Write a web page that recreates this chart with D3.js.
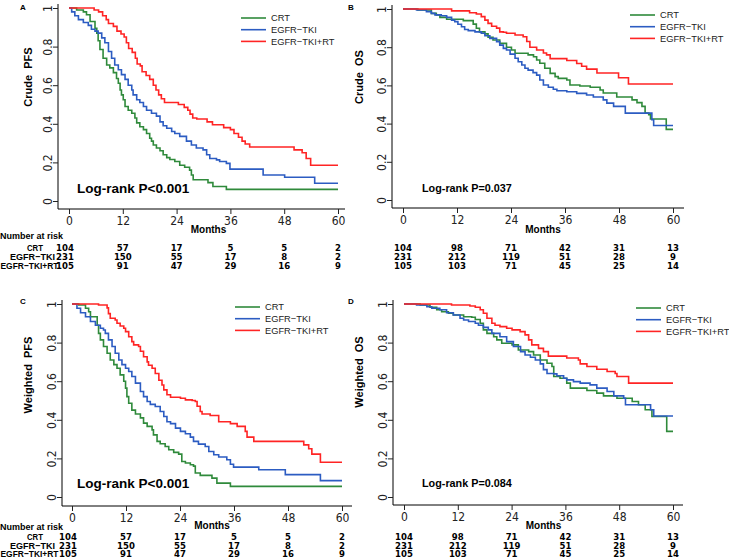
<!DOCTYPE html>
<html>
<head>
<meta charset="utf-8">
<script src="https://cdn.jsdelivr.net/npm/d3@7"></script>
<style>
  body { margin: 0; background: #fff; }
  svg { display: block; }
  .tick text { font-family: "Liberation Sans Narrow", "DejaVu Sans Condensed", Arial, sans-serif; font-size: 12px; fill: #222; }
</style>
</head>
<body>
<script>
var groups = ["CRT", "EGFR\u2212TKI", "EGFR\u2212TKI+RT"];
var colors = ["#2f8a3b", "#2c5cc2", "#ff2424"];
var monthTicks = [0, 12, 24, 36, 48, 60];
var survTicks = [0, 0.2, 0.4, 0.6, 0.8, 1];
var survTickLabels = ["0", "0.2", "0.4", "0.6", "0.8", "1"];

// number at risk (same for crude and weighted)
var riskCRT = [104, 57, 17, 5, 5, 2];
var riskTKI = [231, 150, 55, 17, 8, 2];
var riskTKIRT = [105, 91, 47, 29, 16, 9];
var riskOsCRT = [104, 98, 71, 42, 31, 13];
var riskOsTKI = [231, 212, 119, 51, 28, 9];
var riskOsTKIRT = [105, 103, 71, 45, 25, 14];

// [month, survival] steps
var crudePfsCRT = [[0,1],[1.7,0.99],[3.2,0.98],[3.9,0.965],[4.7,0.93],[5.8,0.895],[6.2,0.87],[6.5,0.83],[6.9,0.785],[7.6,0.74],[8.4,0.705],[9.1,0.69],[9.9,0.665],[10.6,0.635],[11.0,0.61],[11.4,0.575],[11.7,0.55],[12.1,0.525],[12.5,0.49],[13.2,0.47],[14.0,0.455],[14.7,0.43],[15.1,0.405],[15.8,0.385],[16.6,0.37],[17.3,0.35],[18.0,0.325],[18.4,0.31],[18.8,0.29],[19.5,0.275],[20.3,0.26],[21.0,0.24],[21.8,0.225],[22.5,0.215],[23.6,0.205],[24.7,0.185],[25.8,0.175],[26.9,0.16],[27.3,0.135],[27.7,0.11],[31.0,0.095],[32.1,0.075],[35.1,0.06]];
var crudePfsTKI = [[0,1],[0.6,0.98],[1.3,0.96],[2.1,0.94],[3.2,0.925],[4.3,0.91],[5.0,0.89],[5.8,0.88],[6.5,0.87],[7.3,0.845],[8.0,0.82],[8.8,0.775],[9.5,0.74],[10.2,0.705],[11.0,0.68],[11.7,0.655],[12.5,0.63],[13.2,0.6],[14.0,0.575],[14.3,0.55],[15.1,0.525],[15.8,0.51],[16.6,0.49],[17.3,0.47],[18.4,0.455],[19.5,0.44],[20.3,0.41],[21.0,0.39],[21.8,0.377],[22.9,0.36],[23.6,0.35],[24.7,0.335],[26.2,0.31],[27.3,0.29],[28.4,0.275],[29.9,0.265],[30.7,0.24],[31.4,0.22],[32.9,0.213],[33.6,0.205],[35.1,0.195],[35.9,0.165],[43.3,0.135],[48.1,0.123],[54.8,0.092]];
var crudePfsTKIRT = [[0,1],[5.6,0.99],[6.6,0.98],[7.5,0.96],[8.3,0.94],[8.8,0.92],[9.9,0.905],[10.7,0.88],[11.6,0.865],[12.3,0.85],[12.8,0.82],[13.3,0.79],[14.1,0.77],[14.8,0.74],[15.2,0.71],[15.9,0.7],[16.3,0.67],[17.2,0.65],[18.0,0.63],[18.8,0.6],[19.4,0.575],[20.0,0.55],[20.6,0.53],[21.3,0.51],[24.4,0.5],[25.7,0.485],[26.5,0.47],[27.0,0.45],[27.6,0.43],[28.5,0.425],[30.8,0.41],[32.0,0.395],[34.5,0.38],[36.0,0.37],[36.8,0.35],[37.8,0.33],[38.6,0.31],[39.3,0.295],[40.3,0.28],[50.2,0.265],[52.0,0.25],[52.9,0.22],[53.9,0.185]];

var crudeOsCRT = [[0,1],[3.3,0.995],[6.3,0.977],[7.4,0.969],[8.2,0.956],[9.7,0.946],[13.4,0.939],[15.6,0.921],[16.3,0.899],[17.0,0.88],[18.2,0.87],[18.9,0.852],[20.0,0.838],[21.5,0.82],[23.0,0.8],[24.1,0.785],[24.9,0.768],[27.8,0.76],[29.0,0.75],[29.7,0.733],[30.4,0.716],[31.5,0.69],[32.7,0.663],[33.8,0.646],[34.5,0.637],[36.4,0.628],[37.1,0.602],[39.3,0.597],[41.6,0.59],[43.8,0.576],[44.5,0.56],[47.5,0.539],[50.9,0.524],[52.0,0.51],[53.1,0.49],[53.8,0.455],[54.6,0.447],[55.0,0.424],[58.5,0.37]];
var crudeOsTKI = [[0,1],[3.0,0.995],[5.2,0.986],[6.3,0.977],[7.1,0.969],[8.5,0.965],[9.7,0.956],[10.8,0.942],[11.5,0.934],[12.2,0.92],[13.0,0.907],[13.7,0.893],[14.5,0.887],[16.0,0.88],[17.4,0.873],[18.2,0.86],[19.3,0.846],[20.8,0.829],[21.5,0.811],[22.3,0.794],[23.0,0.785],[23.8,0.764],[24.9,0.742],[25.6,0.724],[26.4,0.707],[27.1,0.69],[27.8,0.68],[28.9,0.667],[29.7,0.654],[30.4,0.628],[31.2,0.602],[32.3,0.59],[33.4,0.58],[34.2,0.572],[36.4,0.567],[38.6,0.558],[40.8,0.55],[42.3,0.539],[44.5,0.524],[45.3,0.507],[46.8,0.49],[49.4,0.455],[55.3,0.42],[55.7,0.39]];
var crudeOsTKIRT = [[0,1],[10.8,0.99],[14.8,0.98],[16.3,0.974],[17.4,0.96],[18.2,0.942],[18.9,0.925],[19.7,0.91],[20.8,0.9],[21.5,0.88],[22.3,0.878],[23.0,0.873],[24.9,0.864],[26.7,0.855],[27.5,0.83],[28.2,0.8],[29.7,0.785],[31.2,0.77],[31.9,0.76],[32.7,0.74],[36.4,0.73],[38.6,0.715],[39.7,0.7],[40.8,0.685],[43.1,0.665],[47.9,0.64],[50.1,0.607]];

var weightedPfsCRT = [[0,1],[1.5,0.995],[3.0,0.978],[3.7,0.96],[4.1,0.934],[5.6,0.89],[5.9,0.848],[6.3,0.814],[7.0,0.78],[7.8,0.745],[8.5,0.71],[9.3,0.686],[10.0,0.667],[10.7,0.633],[11.5,0.6],[11.9,0.564],[12.2,0.52],[12.6,0.486],[13.3,0.45],[14.1,0.43],[15.2,0.41],[15.9,0.383],[16.7,0.366],[17.8,0.348],[18.1,0.322],[18.9,0.288],[19.6,0.276],[20.7,0.262],[21.5,0.245],[22.6,0.231],[23.7,0.222],[24.4,0.184],[25.2,0.176],[26.3,0.167],[27.0,0.16],[27.4,0.124],[28.5,0.112],[31.1,0.098],[32.2,0.072],[35.2,0.055]];
var weightedPfsTKI = [[0,1],[1.1,0.978],[1.9,0.955],[3.0,0.934],[4.1,0.909],[5.2,0.89],[6.3,0.874],[7.0,0.865],[7.4,0.848],[8.1,0.814],[8.9,0.78],[9.6,0.745],[10.4,0.71],[11.1,0.686],[11.9,0.667],[12.6,0.65],[13.3,0.624],[14.1,0.59],[15.2,0.547],[15.9,0.52],[16.7,0.495],[17.4,0.48],[18.5,0.469],[19.6,0.443],[20.4,0.417],[21.1,0.39],[21.9,0.38],[23.0,0.357],[24.1,0.34],[25.2,0.328],[26.3,0.31],[27.0,0.288],[28.1,0.274],[29.6,0.262],[30.4,0.236],[31.5,0.219],[32.6,0.207],[34.4,0.193],[35.2,0.17],[35.9,0.155],[41.5,0.141],[47.4,0.116],[55.2,0.085]];
var weightedPfsTKIRT = [[0,1],[5.9,0.995],[7.8,0.98],[8.1,0.95],[8.5,0.926],[9.6,0.917],[10.0,0.9],[10.7,0.886],[11.5,0.874],[11.9,0.857],[12.6,0.83],[13.3,0.805],[13.7,0.788],[14.8,0.78],[15.2,0.755],[15.9,0.727],[16.7,0.7],[17.0,0.683],[17.8,0.667],[18.5,0.64],[19.3,0.605],[20.0,0.58],[20.4,0.555],[21.1,0.53],[21.9,0.517],[24.1,0.512],[25.2,0.503],[26.7,0.5],[27.4,0.495],[27.8,0.47],[28.5,0.443],[28.9,0.43],[30.7,0.422],[32.6,0.39],[35.2,0.38],[36.7,0.366],[38.5,0.34],[38.9,0.31],[40.4,0.288],[51.5,0.27],[52.6,0.25],[53.3,0.222],[55.2,0.18]];

var weightedOsCRT = [[0,1],[3.6,0.995],[5.8,0.983],[7.3,0.97],[8.4,0.96],[9.9,0.952],[11.0,0.943],[13.3,0.934],[15.1,0.931],[15.9,0.92],[17.0,0.9],[17.7,0.866],[18.5,0.848],[20.0,0.83],[20.7,0.814],[21.8,0.797],[24.1,0.788],[25.5,0.762],[27.8,0.753],[28.9,0.736],[30.4,0.71],[31.9,0.693],[33.0,0.676],[33.4,0.624],[34.8,0.615],[36.3,0.59],[37.1,0.564],[40.8,0.552],[43.0,0.538],[44.5,0.524],[47.5,0.512],[50.9,0.495],[52.3,0.478],[53.8,0.452],[55.3,0.417],[58.6,0.34]];
var weightedOsTKI = [[0,1],[2.8,0.995],[5.1,0.986],[6.2,0.978],[8.0,0.97],[9.5,0.955],[11.0,0.943],[12.5,0.926],[13.3,0.917],[14.4,0.909],[15.9,0.9],[16.6,0.89],[17.7,0.879],[18.8,0.866],[19.6,0.848],[21.4,0.83],[22.9,0.805],[24.4,0.78],[26.0,0.753],[27.0,0.736],[28.2,0.724],[29.3,0.71],[30.4,0.69],[31.1,0.66],[31.9,0.64],[33.4,0.638],[34.1,0.628],[35.6,0.615],[36.3,0.607],[37.8,0.598],[39.3,0.59],[41.5,0.581],[43.0,0.564],[45.3,0.547],[46.8,0.524],[49.0,0.512],[49.4,0.478],[55.0,0.452],[55.7,0.42]];
var weightedOsTKIRT = [[0,1],[10.6,0.995],[14.7,0.99],[15.9,0.983],[17.0,0.97],[17.7,0.952],[18.5,0.926],[19.6,0.9],[20.3,0.89],[21.4,0.883],[22.9,0.874],[24.1,0.866],[25.9,0.857],[27.0,0.84],[27.8,0.814],[28.5,0.788],[30.0,0.77],[31.1,0.753],[32.2,0.73],[36.3,0.72],[38.9,0.71],[39.3,0.69],[40.8,0.676],[43.0,0.662],[45.3,0.65],[47.1,0.64],[47.5,0.624],[50.1,0.59]];

var W = 729, H = 558;
var svg = d3.select("body").append("svg").attr("width", W).attr("height", H);

// top row has a bit more room under the x axis than the bottom row
var panels = [
  {letter: "A", ytitle: "Crude  PFS", p: "Log-rank P<0.001", big: true, curves: [crudePfsCRT, crudePfsTKI, crudePfsTKIRT], risk: [riskCRT, riskTKI, riskTKIRT],
   x0: 69, x1: 338, yTop: 8, yBot: 201, axX: 58, axY: 209, axEnd: 345, titleX: 28, titleY: 77, letterX: 23, letterY: 7, leg: [241, 18], pX: 77, pY: 188,
   riskLabels: true, monthsOff: 20, narOff: 27, rows: [39, 48, 56.5]},
  {letter: "B", ytitle: "Crude  OS", p: "Log-rank P=0.037", big: false, curves: [crudeOsCRT, crudeOsTKI, crudeOsTKIRT], risk: [riskOsCRT, riskOsTKI, riskOsTKIRT],
   x0: 403, x1: 673, yTop: 9, yBot: 200, axX: 392, axY: 208, axEnd: 684, titleX: 359, titleY: 77, letterX: 351, letterY: 7, leg: [630, 15], pX: 422, pY: 188,
   riskLabels: false, monthsOff: 21, narOff: 27, rows: [40, 49, 57.5]},
  {letter: "C", ytitle: "Weighted  PFS", p: "Log-rank P<0.001", big: true, curves: [weightedPfsCRT, weightedPfsTKI, weightedPfsTKIRT], risk: [riskCRT, riskTKI, riskTKIRT],
   x0: 72, x1: 342, yTop: 304, yBot: 497, axX: 62, axY: 506, axEnd: 352, titleX: 28, titleY: 375, letterX: 23, letterY: 301, leg: [235, 307], pX: 77, pY: 483,
   riskLabels: true, monthsOff: 19, narOff: 21, rows: [31, 40, 48]},
  {letter: "D", ytitle: "Weighted  OS", p: "Log-rank P=0.084", big: false, curves: [weightedOsCRT, weightedOsTKI, weightedOsTKIRT], risk: [riskOsCRT, riskOsTKI, riskOsTKIRT],
   x0: 404, x1: 673, yTop: 304, yBot: 497, axX: 393, axY: 505, axEnd: 683, titleX: 359, titleY: 372, letterX: 351, letterY: 301, leg: [636, 308], pX: 422, pY: 483,
   riskLabels: false, monthsOff: 20, narOff: 21, rows: [32, 41, 49]}
];

var bold = "Liberation Sans, Arial, sans-serif";
var narrow = "'Liberation Sans Narrow', 'DejaVu Sans Condensed', Arial, sans-serif";
var labelWidths = [16, 45, 58];
var labelCenters = [35, 32.5, 29.5];

panels.forEach(function(P) {
  var x = d3.scaleLinear().domain([0, 60]).range([P.x0, P.x1]);
  var y = d3.scaleLinear().domain([0, 1]).range([P.yBot, P.yTop]);
  var g = svg.append("g");

  // axes
  var yAxis = d3.axisLeft(y).tickValues(survTicks).tickSize(5).tickPadding(5)
    .tickFormat(function(d, i) { return survTickLabels[i]; });
  var yg = g.append("g").attr("transform", "translate(" + P.axX + ",0)").call(yAxis);
  yg.select(".domain").attr("d", "M0," + (P.yTop - 4) + "V" + P.axY);
  yg.selectAll(".tick text")
    .attr("x", 0).attr("dy", null)
    .attr("text-anchor", "middle")
    .attr("transform", "translate(-6,0) rotate(-90)");
  yg.selectAll(".tick line").attr("stroke", "#222");

  var xAxis = d3.axisBottom(x).tickValues(monthTicks).tickSize(5).tickPadding(2);
  var xg = g.append("g").attr("transform", "translate(0," + P.axY + ")").call(xAxis);
  xg.select(".domain").attr("d", "M" + P.axX + ",0H" + P.axEnd);
  xg.selectAll(".tick line").attr("stroke", "#222");

  g.append("text").attr("x", (P.x0 + P.x1) / 2 + 5).attr("y", P.axY + P.monthsOff).attr("dy", "0.35em")
    .attr("text-anchor", "middle").style("font-family", bold).style("font-weight", "bold")
    .style("font-size", "10px").text("Months");

  // y title + letter
  g.append("text").attr("transform", "translate(" + P.titleX + "," + P.titleY + ") rotate(-90)")
    .attr("text-anchor", "middle").attr("dy", "0.35em")
    .style("font-family", bold).style("font-weight", "bold").style("font-size", "11px")
    .style("white-space", "pre").attr("xml:space", "preserve").text(P.ytitle);
  g.append("text").attr("x", P.letterX).attr("y", P.letterY).attr("dy", "0.35em")
    .attr("text-anchor", "middle").style("font-family", bold).style("font-weight", "bold")
    .style("font-size", "8px").text(P.letter);

  // curves
  var line = d3.line().x(function(d) { return x(d[0]); }).y(function(d) { return y(d[1]); })
    .curve(d3.curveStepAfter);
  P.curves.forEach(function(c, i) {
    var pts = c.concat([[60, c[c.length - 1][1]]]);
    g.append("path").attr("d", line(pts)).attr("fill", "none")
      .attr("stroke", colors[i]).attr("stroke-width", 1.6);
  });

  // legend
  groups.forEach(function(name, i) {
    var ly = P.leg[1] + i * 11.7;
    g.append("line").attr("x1", P.leg[0]).attr("x2", P.leg[0] + 25)
      .attr("y1", ly).attr("y2", ly).attr("stroke", colors[i]).attr("stroke-width", 1.6);
    g.append("text").attr("x", P.leg[0] + 30).attr("y", ly).attr("dy", "0.35em")
      .style("font-family", bold).style("font-size", "9.3px").style("fill", "#222").text(name);
  });

  // log-rank text
  g.append("text").attr("x", P.pX).attr("y", P.pY).attr("dy", "0.35em")
    .style("font-family", bold).style("font-weight", "bold")
    .style("font-size", P.big ? "13.5px" : "10.8px").text(P.p);

  // number at risk
  var rowY = P.rows.map(function(o) { return P.axY + o; });
  if (P.riskLabels) {
    g.append("text").attr("x", 0).attr("y", P.axY + P.narOff).attr("dy", "0.35em")
      .style("font-family", bold).style("font-weight", "bold").style("font-size", "9px")
      .text("Number at risk");
    groups.forEach(function(name, i) {
      g.append("text").attr("x", labelCenters[i]).attr("y", rowY[i]).attr("dy", "0.35em")
        .attr("text-anchor", "middle").style("font-family", bold).style("font-weight", "bold")
        .style("font-size", "9.5px")
        .attr("textLength", labelWidths[i]).attr("lengthAdjust", "spacingAndGlyphs")
        .text(name);
    });
  }
  P.risk.forEach(function(row, i) {
    row.forEach(function(v, j) {
      var xx = x(monthTicks[j]) - (j === 0 && P.riskLabels ? 4 : 0);
      g.append("text").attr("x", xx).attr("y", rowY[i]).attr("dy", "0.35em")
        .attr("text-anchor", "middle").style("font-family", narrow).style("font-weight", "bold")
        .style("font-size", "9.5px").text(v);
    });
  });
});
</script>
</body>
</html>
